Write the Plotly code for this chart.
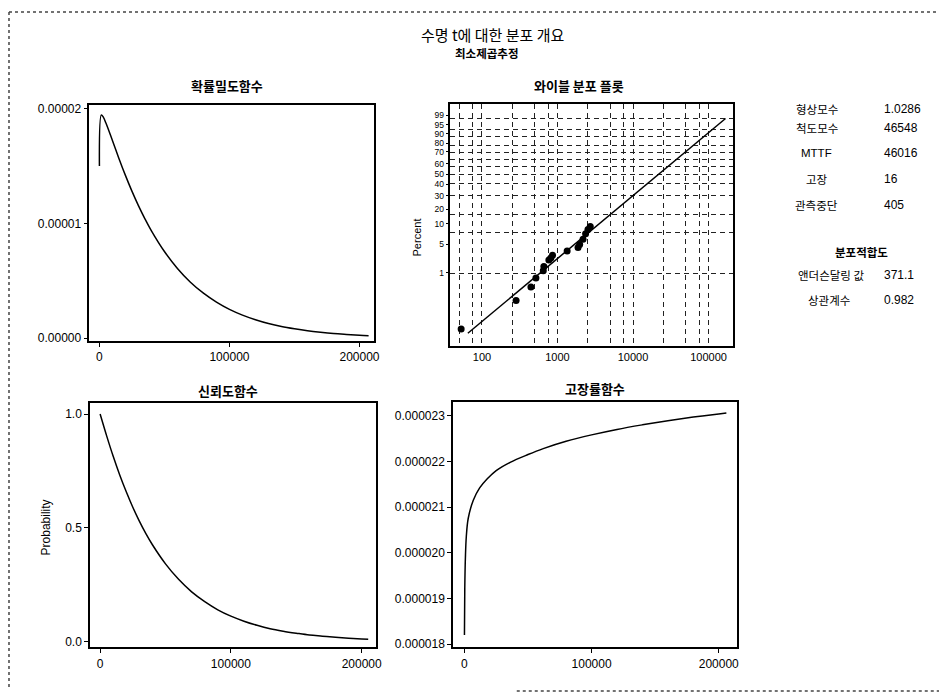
import math
import plotly.graph_objects as go

W, H = 947, 698
OFF = 8  # default page body margin; positions below are page pixels

# ---------------- data ----------------
pdf_t = [0, 1500, 3000, 5000, 10000, 15000, 20000, 25000, 30000, 35000, 40000, 50000, 60000,
         70000, 80000, 90000, 100000, 110000, 120000, 130000, 140000, 150000, 160000,
         170000, 180000, 190000, 200000, 207000]
pdf_f = [1.50e-5, 1.945e-5, 1.925e-5, 1.874e-5, 1.722e-5, 1.566e-5, 1.418e-5, 1.281e-5,
         1.155e-5, 1.040e-5, 0.935e-5, 0.755e-5, 0.608e-5, 0.488e-5, 0.392e-5, 0.314e-5,
         0.251e-5, 0.201e-5, 0.161e-5, 0.128e-5, 0.102e-5, 0.082e-5, 0.065e-5, 0.052e-5,
         0.041e-5, 0.033e-5, 0.026e-5, 0.022e-5]

rel_t = [0, 5000, 10000, 15000, 20000, 25000, 30000, 35000, 40000, 50000, 60000, 70000,
         80000, 90000, 100000, 110000, 120000, 130000, 140000, 150000, 160000, 170000,
         180000, 190000, 200000, 205000]
rel_p = [1.0, 0.904, 0.814, 0.732, 0.658, 0.590, 0.529, 0.474, 0.425, 0.341, 0.273, 0.218,
         0.175, 0.139, 0.111, 0.089, 0.071, 0.056, 0.045, 0.036, 0.028, 0.023, 0.018,
         0.014, 0.011, 0.010]

haz_t = [50, 300, 800, 1500, 3000, 7000, 12000, 18000, 25000, 36000, 50000, 62000, 80000,
         100000, 120000, 140000, 160000, 180000, 200000, 206000]
haz_h = [0.00001820, 0.00001920, 0.00001990, 0.00002035, 0.00002075, 0.00002115,
         0.00002142, 0.00002162, 0.00002180, 0.00002198, 0.00002215, 0.00002228,
         0.00002244, 0.00002258, 0.00002270, 0.00002280, 0.00002289, 0.00002297,
         0.00002304, 0.00002306]

fail_t = [53, 283, 445, 518, 648, 660, 769, 816, 859, 1342, 1871, 1965, 2178, 2357, 2533, 2716]
fail_pct = [0.11, 0.34, 0.58, 0.83, 1.10, 1.30, 1.68, 1.83, 2.04, 2.41, 2.75, 3.09, 3.79,
            4.71, 5.56, 6.22]
fit_t = [65, 168000]
fit_pct = [0.093, 99.06]

pct_ticks = [1, 5, 10, 20, 30, 40, 50, 60, 70, 80, 90, 95, 99]
x_grid_t = [50, 75, 100, 250, 500, 750, 1000, 2500, 5000, 7500, 10000, 25000, 50000, 75000, 100000]
x_label_t = [100, 1000, 10000, 100000]

param_labels = ["형상모수", "척도모수", "MTTF", "고장", "관측중단"]
param_values = ["1.0286", "46548", "46016", "16", "405"]
fit_labels = ["앤더슨달링 값", "상관계수"]
fit_values = ["371.1", "0.982"]

main_title = "수명 t에 대한 분포 개요"
sub_title = "최소제곱추정"
panel_titles = ["확률밀도함수", "와이블 분포 플롯", "신뢰도함수", "고장률함수"]
gof_title = "분포적합도"

# ---------------- layout helpers ----------------
def wz(p):
    return math.log(-math.log(1 - p / 100.0))

def px(x):
    return (x - OFF) / W

def py(y):
    return 1 - (y - OFF) / H

def dom_x(a, b):
    return [px(a), px(b)]

def dom_y(top, bottom):
    return [py(bottom), py(top)]

FONT = "Liberation Sans, Arial, Noto Sans CJK KR, sans-serif"
KFONT = "Noto Sans CJK KR, Liberation Sans, sans-serif"

# Weibull panel geometry (page px) and its z-range
WB_TOP, WB_BOT = 101.7, 346.7
WB_ZR = [-7.478, 2.129]
# where the reference prints the percent labels (page px, same order as pct_ticks)
pct_label_px = [273, 244, 223.3, 208.3, 195, 183.3, 173.3, 162.7, 150.5, 141.7, 132, 123, 113.5]

def z_at_px(y):
    return WB_ZR[1] - (y - WB_TOP) / (WB_BOT - WB_TOP) * (WB_ZR[1] - WB_ZR[0])

fig = go.Figure()
line_style = dict(color="black", width=1.5)

fig.add_trace(go.Scatter(x=pdf_t, y=pdf_f, mode="lines", line=dict(shape="spline", **line_style),
                         xaxis="x", yaxis="y", showlegend=False))
fig.add_trace(go.Scatter(x=fit_t, y=[wz(p) for p in fit_pct], mode="lines", line=line_style,
                         xaxis="x2", yaxis="y2", showlegend=False))
fig.add_trace(go.Scatter(x=fail_t, y=[wz(p) for p in fail_pct], mode="markers",
                         marker=dict(color="black", size=7),
                         xaxis="x2", yaxis="y2", showlegend=False))
fig.add_trace(go.Scatter(x=rel_t, y=rel_p, mode="lines", line=dict(shape="spline", **line_style),
                         xaxis="x3", yaxis="y3", showlegend=False))
fig.add_trace(go.Scatter(x=haz_t, y=haz_h, mode="lines", line=dict(shape="spline", **line_style),
                         xaxis="x4", yaxis="y4", showlegend=False))

frame = dict(showline=True, linecolor="black", linewidth=1.8, mirror=True, zeroline=False,
             showgrid=False, ticks="outside", ticklen=4, tickcolor="black",
             tickfont=dict(family=FONT, size=12, color="black"))

lin_x = dict(frame, tickvals=[0, 100000, 200000], tickformat="d")
grid = dict(showgrid=True, gridcolor="#222", griddash="5px,4px", gridwidth=1)

fig.update_layout(
    width=W, height=H,
    margin=dict(l=0, r=0, t=0, b=0),
    paper_bgcolor="white", plot_bgcolor="white",
    font=dict(family=FONT, color="black"),
    xaxis=dict(lin_x, domain=dom_x(90, 376), range=[-7640, 210900], anchor="y"),
    yaxis=dict(frame, domain=dom_y(102.7, 341.7), range=[-0.0232e-5, 2.0344e-5],
               tickvals=[0, 1e-5, 2e-5], tickformat=".5f", anchor="x"),
    xaxis2=dict(frame, type="log", domain=dom_x(453.3, 738), range=[1.583, 5.329], anchor="y2",
                tickvals=x_grid_t,
                ticktext=[str(v) if v in x_label_t else "" for v in x_grid_t],
                ticks="", tickfont=dict(family=FONT, size=11, color="black"), **grid),
    yaxis2=dict(frame, domain=dom_y(WB_TOP, WB_BOT), range=WB_ZR, anchor="x2",
                tickvals=[z_at_px(v) for v in pct_label_px], ticktext=[str(p) for p in pct_ticks],
                ticklen=3, tickfont=dict(family=FONT, size=8.5, color="black")),
    yaxis5=dict(domain=dom_y(WB_TOP, WB_BOT), range=WB_ZR, anchor="x2", overlaying="y2",
                tickvals=[wz(p) for p in pct_ticks], showticklabels=False, ticks="",
                zeroline=False, showline=False, **grid),
    xaxis3=dict(lin_x, domain=dom_x(90.7, 378), range=[-7600, 210700], anchor="y3"),
    yaxis3=dict(frame, domain=dom_y(405, 651.7), range=[-0.026, 1.0465],
                tickvals=[0, 0.5, 1.0], tickformat=".1f", anchor="x3"),
    xaxis4=dict(lin_x, domain=dom_x(456, 741.7), range=[-8830, 214400], anchor="y4"),
    yaxis4=dict(frame, domain=dom_y(404, 651.7), range=[17.93e-6, 23.29e-6],
                tickvals=[18e-6, 19e-6, 20e-6, 21e-6, 22e-6, 23e-6], tickformat=".6f",
                anchor="x4"),
)
# an invisible trace so the grid-only axis is drawn
fig.add_trace(go.Scatter(x=[fit_t[0]], y=[wz(fit_pct[0])], mode="markers", opacity=0,
                         xaxis="x2", yaxis="y5", showlegend=False, hoverinfo="skip"))

ann = []

def text(x, y, s, size, bold=False, xanchor="center", angle=0, family=KFONT):
    ann.append(dict(x=px(x), y=py(y), xref="paper", yref="paper", text=f"<b>{s}</b>" if bold else s,
                    showarrow=False, xanchor=xanchor, yanchor="middle", textangle=angle,
                    font=dict(family=family, size=size, color="black")))

text(495.5, 31.7, main_title, 15)
text(490, 50, sub_title, 11.5, bold=True)
for (x, y), s in zip([(228, 83), (583, 83), (229, 391.7), (598.5, 390)], panel_titles):
    text(x, y, s, 13, bold=True)

text(420, 236.7, "Percent", 11, angle=-90, family=FONT)
text(46.7, 530, "Probability", 12, angle=-90, family=FONT)

row_y = [106.7, 126.7, 152, 178.3, 204]
for y, lab, val in zip(row_y, param_labels, param_values):
    text(822, y, lab, 11.5, family=FONT if lab == "MTTF" else KFONT)
    text(888, y, val, 12, xanchor="left", family=FONT)

text(866.7, 251.7, gof_title, 11.5, bold=True)
for (cx, y), lab, val in zip([(836, 275), (834, 300)], fit_labels, fit_values):
    text(cx, y, lab, 11.5)
    text(888, y, val, 12, xanchor="left", family=FONT)

fig.update_layout(annotations=ann)

border = dict(color="#444", width=1.5, dash="dot")
fig.update_layout(shapes=[
    dict(type="line", xref="paper", yref="paper", x0=px(9), x1=1, y0=py(9), y1=py(9), line=border),
    dict(type="line", xref="paper", yref="paper", x0=px(9), x1=px(9), y0=py(9), y1=py(692), line=border),
    dict(type="line", xref="paper", yref="paper", x0=px(520), x1=1, y0=py(696), y1=py(696), line=border),
])

fig.write_html("out.html")
